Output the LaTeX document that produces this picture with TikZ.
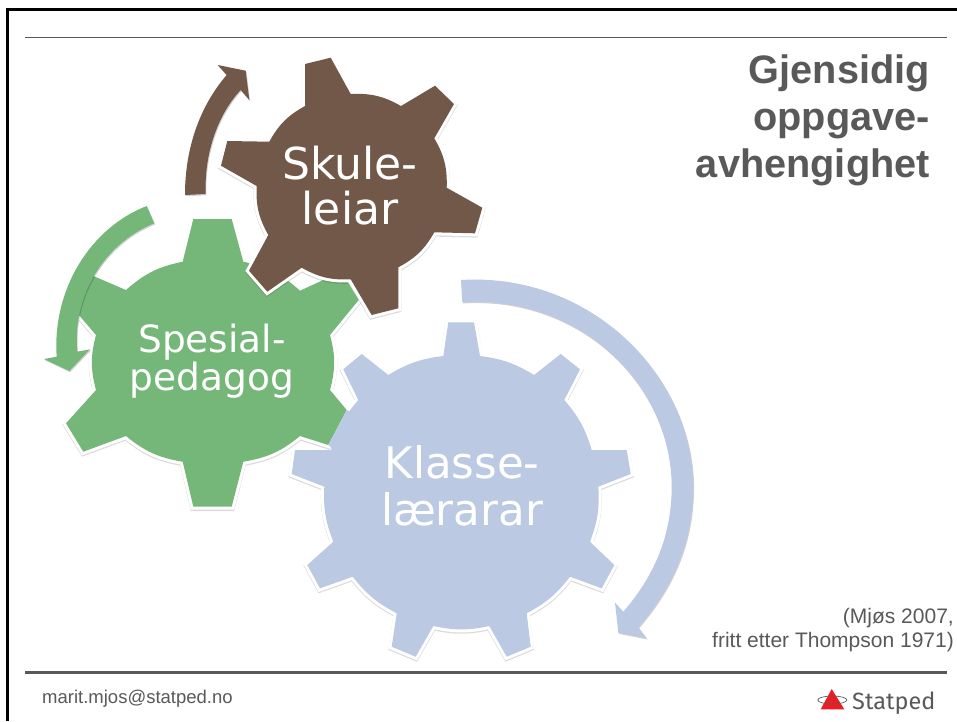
\documentclass[tikz,border=0pt]{standalone}
\usepackage{fontspec}
\setmainfont{Liberation Sans}
\newfontfamily\gearfont{DejaVu Sans}
\newfontfamily\logofont{Fira Sans}
\definecolor{skulebrown}{HTML}{725848}
\definecolor{spesgreen}{HTML}{75B779}
\definecolor{klasseblue}{HTML}{BCC9E3}
\definecolor{slidegray}{HTML}{595959}
\definecolor{logored}{HTML}{ED1C24}

\begin{document}
\begin{tikzpicture}[x=1pt,y=-1pt]
    \tikzset{gear/.style={preaction={draw=black,opacity=.14,line width=6.2pt,transform canvas={yshift=-1.2pt}},preaction={draw=white,line width=6pt}}}
    \tikzset{band/.style={preaction={fill=black,opacity=.18,transform canvas={xshift=.8pt,yshift=-1.2pt}}}}
    \tikzset{geartext/.style={text=white,align=center,inner sep=0pt}}
    \useasboundingbox (0,0) rectangle (957,721);

    % frame and rules
    \fill[white] (0,0) rectangle (957,721);
    \draw[black,line width=3pt] (7,721) -- (7,9.5) -- (957,9.5);
    \draw[slidegray,line width=1.3pt] (25,37.2) -- (947,37.2);
    \draw[slidegray,line width=3pt] (25,672) -- (947,672);

    % blue gear
    \path[gear,fill=klasseblue] (448.3,322.3) -- (474,322.3) -- (480,356) to[bend left=12] (534,375) -- (560.7,354) -- (580,369.3) -- (564.3,400) to[bend left=12] (591.7,450) -- (626.7,450) -- (630.7,474) -- (598.3,486.7) to[bend left=12] (590,541.7) -- (614.3,565) -- (601.7,588.3) -- (570,576.7) to[bend left=12] (526.7,613.3) -- (530.7,646.7) -- (506.7,656.7) -- (489.3,626) to[bend left=12] (433.3,626) -- (415.7,656.7) -- (391.7,646.7) -- (396.7,613.3) to[bend left=12] (352.7,576.7) -- (320,588.3) -- (307.3,565) -- (333.3,541.7) to[bend left=12] (324.3,486.7) -- (291.7,474) -- (295,450) -- (331,450) to[bend left=12] (358.3,400) -- (343.3,369.3) -- (361.7,354) -- (388.3,375) to[bend left=12] (443.3,356) -- cycle;

    % green gear, its lower right tooth is cut by the blue one
    \path[gear,fill=spesgreen] (193.3,219) -- (231.7,219) -- (243.3,261.7) to[bend left=15] (300,290.7) -- (341.3,271.7) -- (358.7,300) -- (330,335) to[bend left=15] (330,390) -- (346.7,410) -- (328.3,445) -- (300,436) to[bend left=15] (243.3,461.7) -- (231.7,506.7) -- (193.3,506.7) -- (182.7,461.7) to[bend left=15] (126,436) -- (83.3,451.7) -- (66,423.3) -- (96,390) to[bend left=15] (96,335) -- (66,300) -- (83.3,271.7) -- (126,290) to[bend left=15] (182.7,261.7) -- cycle;
    \fill[klasseblue] (346.7,410) -- (328.3,445) -- (333,449) -- (352,413) -- cycle;

    % brown gear
    \path[gear,fill=skulebrown] (305,64) -- (330.7,57.7) -- (350.7,94) to[bend left=16] (401,106) -- (435,85.7) -- (454,104) -- (434.3,138.3) to[bend left=16] (446.7,187.7) -- (482.3,207.7) -- (475,233.3) -- (434.3,232.3) to[bend left=16] (398.3,267.3) -- (398.3,308.3) -- (371.7,315) -- (350.7,279.3) to[bend left=16] (301.7,267.7) -- (267.3,291.7) -- (249,270.7) -- (268.3,235) to[bend left=16] (256.7,186) -- (221,165.7) -- (227.3,141) -- (269.3,141.7) to[bend left=16] (305,106) -- cycle;

    % arrows
    \path[band,fill=skulebrown] (185,195) .. controls (185,140) and (205,100) .. (226.7,75) -- (217.7,65) -- (245.7,70.7) -- (249.3,100) -- (240.7,90) .. controls (220,112) and (204,150) .. (205.7,194) -- cycle;
    \path[band,fill=spesgreen] (146.7,206) .. controls (90,228) and (52,290) .. (56.7,356.7) -- (44,359) -- (69.3,371) -- (90,349.3) -- (77.3,351.7) .. controls (72,295) and (105,243) .. (154.3,223.3) -- cycle;
    \path[band,fill=klasseblue] (461,280) .. controls (590,272) and (693,375) .. (693.3,487) .. controls (693,540) and (675,585) .. (638.3,627.3) -- (646.7,638.3) -- (618.3,632.7) -- (615,602.7) -- (623.3,611.7) .. controls (655,575) and (671.5,535) .. (671.7,487) .. controls (671.5,385) and (580,295) .. (462.3,302.3) -- cycle;

    % gear labels
    \node[geartext,font=\gearfont\fontsize{44}{45}\selectfont] (skule) at (350,185.5) {Skule-\\leiar};
    \node[geartext,font=\gearfont\fontsize{37.5}{38.5}\selectfont] (spes) at (212,361) {Spesial-\\pedagog};
    \node[geartext,font=\gearfont\fontsize{43.5}{47}\selectfont] (klasse) at (462,486) {Klasse-\\lærarar};

    % title and source
    \node[anchor=north east,align=right,inner sep=0pt,text=slidegray,font=\bfseries\fontsize{39.7}{47}\selectfont] (title) at (930,55) {Gjensidig\\oppgave-\\avhengighet};
    \node[anchor=south east,align=right,inner sep=0pt,text=slidegray,font=\fontsize{21}{24}\selectfont] (source) at (954,652) {(Mjøs 2007,\\fritt etter Thompson 1971)};
    \node[anchor=base west,inner sep=0pt,text=slidegray,font=\fontsize{18.5}{20}\selectfont] (mail) at (42,703) {marit.mjos@statped.no};

    % logo
    \fill[logored] (831.7,689) -- (844.3,709.3) -- (820.7,709.3) -- cycle;
    \draw[slidegray,line width=.7pt] (832.3,700) ellipse [x radius=14.5,y radius=4];
    \node[anchor=base west,inner sep=0pt,text=slidegray,font=\logofont\fontsize{23.5}{26}\selectfont] (logo) at (852,709) {Statped};
\end{tikzpicture}
\end{document}
